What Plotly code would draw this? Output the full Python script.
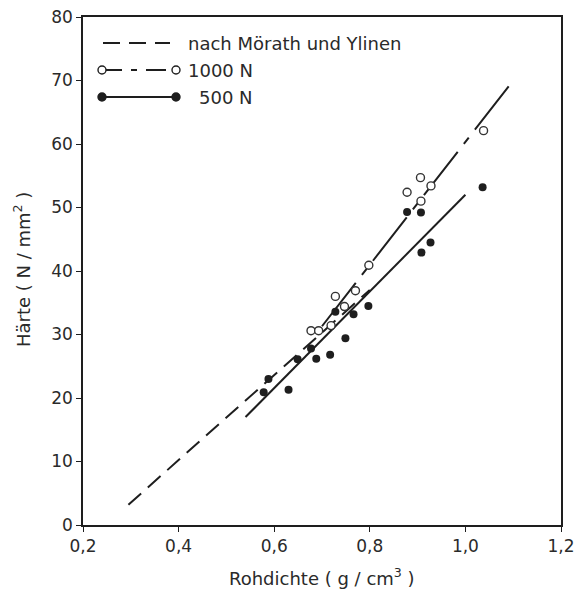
import plotly.graph_objects as go

# Rohdichte (g/cm3) and Härte (N/mm2)
dichte_500 = [0.578, 0.588, 0.630, 0.649, 0.677, 0.688, 0.717, 0.728, 0.749, 0.766, 0.797,
              0.878, 0.907, 0.908, 0.927, 1.036]
haerte_500 = [20.9, 23.0, 21.3, 26.1, 27.8, 26.2, 26.8, 33.6, 29.4, 33.2, 34.5,
              49.3, 49.2, 42.9, 44.5, 53.2]

dichte_1000 = [0.677, 0.693, 0.719, 0.728, 0.747, 0.770, 0.798, 0.878, 0.906, 0.907, 0.928, 1.038]
haerte_1000 = [30.6, 30.6, 31.4, 36.0, 34.4, 36.9, 40.9, 52.4, 54.7, 51.0, 53.4, 62.1]

# straight lines as drawn in the figure (end points)
moerath_x = [0.295, 0.80]
moerath_y = [3.2, 37.0]
fit1000_x = [0.70, 1.10]
fit1000_y = [31.3, 70.0]
fit500_x = [0.54, 1.0]
fit500_y = [17.0, 52.0]

xticks = [0.2, 0.4, 0.6, 0.8, 1.0, 1.2]
xticklabels = ["0,2", "0,4", "0,6", "0,8", "1,0", "1,2"]
yticks = [0, 10, 20, 30, 40, 50, 60, 70, 80]

ink = "#1e1e1e"
txt = "#2a2a2a"
font = "DejaVu Sans"

fig = go.Figure()

fig.add_trace(go.Scatter(x=moerath_x, y=moerath_y, mode="lines",
                         line=dict(color=ink, width=2, dash="17px,9px")))
fig.add_trace(go.Scatter(x=fit1000_x, y=fit1000_y, mode="lines",
                         line=dict(color=ink, width=2, dash="55px,10px,8px,10px")))
fig.add_trace(go.Scatter(x=fit500_x, y=fit500_y, mode="lines",
                         line=dict(color=ink, width=2)))
fig.add_trace(go.Scatter(x=dichte_1000, y=haerte_1000, mode="markers",
                         marker=dict(size=8, color="white", line=dict(color="#333", width=1.4))))
fig.add_trace(go.Scatter(x=dichte_500, y=haerte_500, mode="markers",
                         marker=dict(size=8, color=ink, line=dict(width=0))))

# hand made legend in paper coords (plot area on screen: x 83..561, y 17..525)
shapes = []
anns = []
def px_x(p):
    return (p - 83) / 478.0
def px_y(p):
    return (525 - p) / 508.0

rows = [
    (43, "17px,9px", False, "nach Mörath und Ylinen", 186),
    (70, "20px,9px,6px,9px", "open", "1000 N", 186),
    (97, "solid", "filled", "500 N", 197),
]
for py, dash, mk, label, tx in rows:
    x0, x1 = (103, 170) if not mk else (102, 176)
    shapes.append(dict(type="line", xref="paper", yref="paper",
                       x0=px_x(x0), x1=px_x(x1), y0=px_y(py), y1=px_y(py),
                       line=dict(color=ink, width=2, dash=dash)))
    if mk:
        for cx in (x0, x1):
            shapes.append(dict(type="circle", xref="paper", yref="paper",
                               xsizemode="pixel", ysizemode="pixel",
                               xanchor=px_x(cx), yanchor=px_y(py),
                               x0=-4, x1=4, y0=-4, y1=4,
                               fillcolor="white" if mk == "open" else ink,
                               line=dict(color=ink, width=1.4)))
    anns.append(dict(xref="paper", yref="paper", x=px_x(tx), y=px_y(py),
                     xanchor="left", yanchor="middle", showarrow=False,
                     text=label, font=dict(family=font, size=18, color=txt)))

# axis titles
anns.append(dict(xref="paper", yref="paper", x=px_x(322), y=px_y(577),
                 xanchor="center", yanchor="middle", showarrow=False,
                 text="Rohdichte ( g / cm<sup>3</sup> )", font=dict(family=font, size=18, color=txt)))
anns.append(dict(xref="paper", yref="paper", x=px_x(22), y=px_y(270),
                 xanchor="center", yanchor="middle", showarrow=False, textangle=-90,
                 text="Härte ( N / mm<sup>2</sup> )", font=dict(family=font, size=18, color=txt)))

# the page puts the plot 8 px in from the top-left corner, so margins are reduced by 8
fig.update_layout(
    width=575, height=587,
    margin=dict(l=75, r=22, t=9, b=70),
    paper_bgcolor="white", plot_bgcolor="white",
    showlegend=False,
    shapes=shapes, annotations=anns,
    font=dict(family=font, size=17, color=txt),
    xaxis=dict(range=[0.2, 1.2], tickvals=xticks, ticktext=xticklabels,
               showgrid=False, zeroline=False, showline=True, mirror=True,
               linecolor=ink, linewidth=1.5, ticks="outside", ticklen=5,
               tickcolor=ink, tickwidth=1.2, automargin=False,
               ticklabeloverflow="allow"),
    yaxis=dict(range=[0, 80], tickvals=yticks,
               showgrid=False, zeroline=False, showline=True, mirror=True,
               linecolor=ink, linewidth=1.5, ticks="outside", ticklen=5,
               tickcolor=ink, tickwidth=1.2, automargin=False,
               ticklabeloverflow="allow"),
)

fig.write_html("out.html")
